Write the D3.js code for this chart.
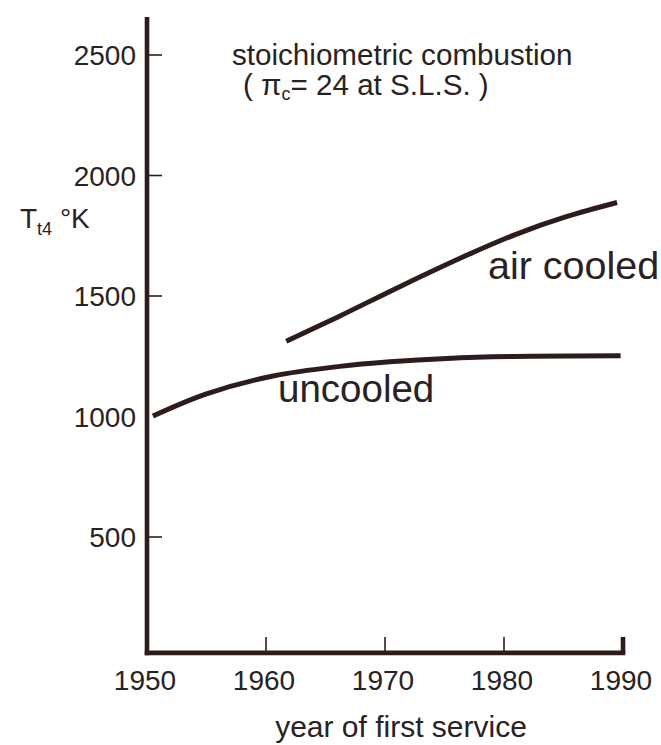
<!DOCTYPE html>
<html>
<head>
<meta charset="utf-8">
<script src="https://cdn.jsdelivr.net/npm/d3@7"></script>
<style>
  html, body { margin: 0; padding: 0; background: #fff; }
  svg { display: block; }
  text { font-family: "Liberation Sans", Arial, Helvetica, sans-serif; fill: #2a2222; }
</style>
</head>
<body>
<svg id="chart" width="661" height="745"></svg>
<script>
// ---- data ----
const airCooledYears  = [1961.7, 1966.0, 1971.5, 1977.0, 1981.0, 1985.3, 1989.5];
const airCooledTemps  = [1312, 1412, 1545, 1672, 1756, 1830, 1888];
const uncooledYears   = [1950.5, 1955.0, 1960.6, 1966.2, 1970.4, 1975.2, 1980.8, 1989.8];
const uncooledTemps   = [1002, 1094, 1168, 1208, 1227, 1241, 1249, 1252];
const xTickValues     = [1950, 1960, 1970, 1980, 1990];
const xTickMarks      = [1960, 1970, 1980];
const yTickValues     = [500, 1000, 1500, 2000, 2500];
const yTickMarks      = [500, 1500, 2000, 2500];
const yearDomain      = [1950, 1990];
const tempDomain      = [0, 2500];
const axisFloorTemp   = 19;
const axisTopTemp     = 2658;

const svg = d3.select("#chart");
const ink = "#2e1c1c";

const x = d3.scaleLinear().domain(yearDomain).range([147, 623]);
const y = d3.scaleLinear().domain(tempDomain).range([657.5, 55]);

// y axis line
svg.append("line")
  .attr("x1", x(1950)).attr("x2", x(1950))
  .attr("y1", y(axisTopTemp)).attr("y2", y(axisFloorTemp) + 2.3)
  .attr("stroke", ink).attr("stroke-width", 4.6);
// x axis line
svg.append("line")
  .attr("x1", x(1950) - 2.3).attr("x2", x(1990) + 2.3)
  .attr("y1", y(axisFloorTemp)).attr("y2", y(axisFloorTemp))
  .attr("stroke", ink).attr("stroke-width", 4.6);

// y tick marks
svg.selectAll(".ytick").data(yTickMarks).enter().append("line")
  .attr("x1", x(1950) + 2).attr("x2", x(1950) + 15)
  .attr("y1", d => y(d)).attr("y2", d => y(d))
  .attr("stroke", ink).attr("stroke-width", 1.6);
// y tick labels
svg.selectAll(".ylab").data(yTickValues).enter().append("text")
  .attr("x", x(1950) - 11).attr("y", d => y(d))
  .attr("dy", "0.36em").attr("text-anchor", "end")
  .attr("font-size", 28).text(d => d);

// x tick marks
svg.selectAll(".xtick").data(xTickMarks).enter().append("line")
  .attr("x1", d => x(d)).attr("x2", d => x(d))
  .attr("y1", y(axisFloorTemp) - 16).attr("y2", y(axisFloorTemp))
  .attr("stroke", ink).attr("stroke-width", 1.6);
svg.append("line")
  .attr("x1", x(1990)).attr("x2", x(1990))
  .attr("y1", y(axisFloorTemp) - 16).attr("y2", y(axisFloorTemp))
  .attr("stroke", ink).attr("stroke-width", 4.6);
// x tick labels
svg.selectAll(".xlab").data(xTickValues).enter().append("text")
  .attr("x", d => x(d) - 2).attr("y", 690)
  .attr("text-anchor", "middle").attr("font-size", 28).text(d => d);

// axis titles
svg.append("text").attr("x", 401).attr("y", 737)
  .attr("text-anchor", "middle").attr("font-size", 30)
  .text("year of first service");

const yl = svg.append("text").attr("x", 20).attr("y", 228).attr("font-size", 28);
yl.append("tspan").text("T");
yl.append("tspan").attr("font-size", 18).attr("dy", 7).text("t4");
yl.append("tspan").attr("dy", -7).text(" \u00B0K");

// title
svg.append("text").attr("x", 232).attr("y", 65).attr("font-size", 29.6)
  .text("stoichiometric combustion");
const t2 = svg.append("text").attr("x", 243).attr("y", 95).attr("font-size", 29.6);
t2.append("tspan").text("( \u03C0");
t2.append("tspan").attr("font-size", 18).attr("dy", 5).text("c");
t2.append("tspan").attr("dy", -5).text("= 24 at S.L.S. )");

// curves
const line = d3.line().x(d => x(d[0])).y(d => y(d[1])).curve(d3.curveCatmullRom.alpha(0.5));
const airData = airCooledYears.map((v, i) => [v, airCooledTemps[i]]);
const uncData = uncooledYears.map((v, i) => [v, uncooledTemps[i]]);
svg.append("path").datum(airData).attr("d", line)
  .attr("fill", "none").attr("stroke", ink).attr("stroke-width", 5);
svg.append("path").datum(uncData).attr("d", line)
  .attr("fill", "none").attr("stroke", ink).attr("stroke-width", 5);

// curve labels
svg.append("text").attr("x", 488).attr("y", 279).attr("font-size", 39.5).text("air cooled");
svg.append("text").attr("x", 278).attr("y", 402).attr("font-size", 38.5).text("uncooled");
</script>
</body>
</html>
